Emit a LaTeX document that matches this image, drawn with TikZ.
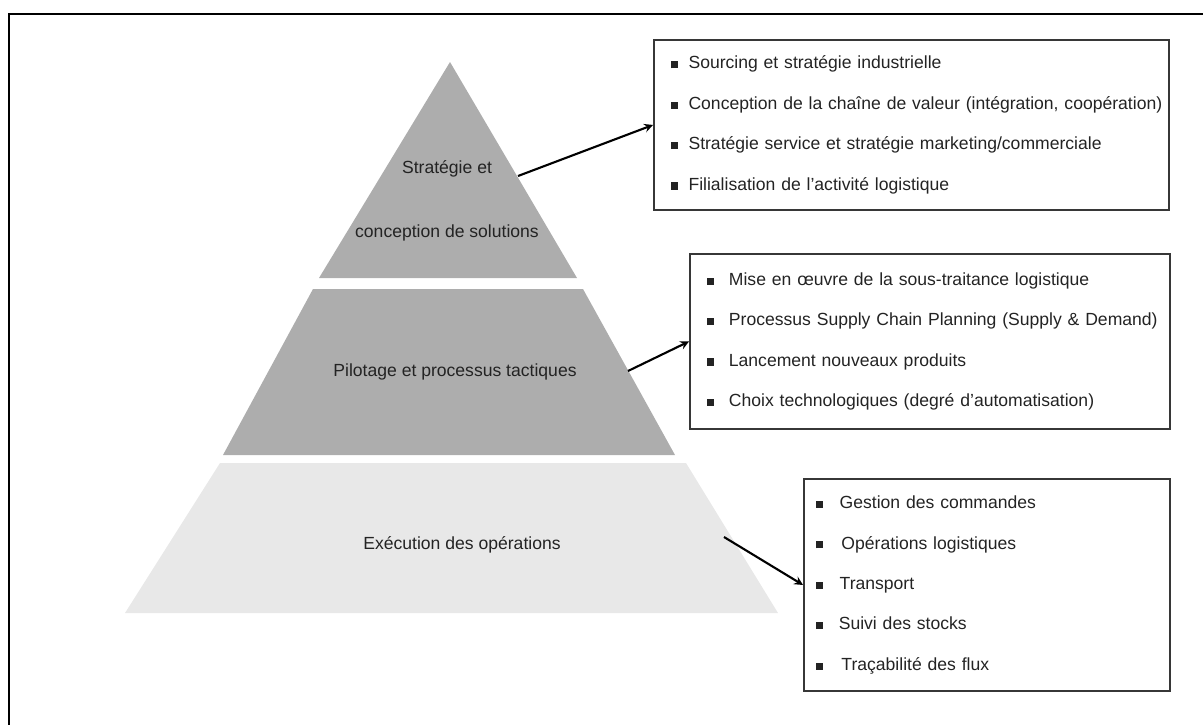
\documentclass[tikz,border=0pt]{standalone}
\usepackage{fontspec}
\setmainfont{Liberation Sans}
\usetikzlibrary{arrows,positioning}
\definecolor{lvldark}{RGB}{173,173,173}
\definecolor{lvllight}{RGB}{232,232,232}
\definecolor{txtgray}{RGB}{35,35,35}
\definecolor{boxline}{RGB}{55,55,55}
\newcommand{\puce}[2][6pt]{\mbox{\rule[0.4pt]{4pt}{4pt}\hspace{#1}#2}}

\begin{document}
\begin{tikzpicture}[x=0.02cm,y=-0.02cm,
    listbox/.style={rectangle,draw=boxline,line width=1.1pt,anchor=north west,align=left,inner xsep=0.34cm,text=txtgray,font=\fontsize{10}{23}\selectfont},
    lvltext/.style={align=center,text=txtgray,font=\fontsize{10}{12}\selectfont},
    arrow/.style={->,>=stealth,very thick}]
    \useasboundingbox (0,0) rectangle (1203,724);
    \draw[line width=1.2pt] (1215,14) -- (9,14) -- (9,735);
    \fill[lvldark] (450,62) -- (577,278) -- (319,278) -- cycle;
    \fill[lvldark] (313,289) -- (583,289) -- (675,455) -- (223,455) -- cycle;
    \fill[lvllight] (220,463) -- (686,463) -- (778,613) -- (125,613) -- cycle;
    \node[lvltext] (l1) at (447,201) {Stratégie et\\[24.4pt]conception de solutions};
    \node[lvltext] (l2) at (455,372) {Pilotage et processus tactiques};
    \node[lvltext] (l3) at (462,545) {Exécution des opérations};
    \coordinate (s1) at (518,176);
    \coordinate (s2) at (628,371);
    \coordinate (s3) at (724,537);
    \node[listbox,minimum width=10.3cm,minimum height=3.4cm,text width=9.62cm] (b1) at (653,39)
      {\puce{Sourcing et stratégie industrielle}\\
       \puce{Conception de la chaîne de valeur (intégration, coopération)}\\
       \puce{Stratégie service et stratégie marketing/commerciale}\\
       \puce{Filialisation de l'activité logistique}};
    \node[listbox,minimum width=9.6cm,minimum height=3.5cm,text width=8.92cm] (b2) at (689,253)
      {\puce[8.5pt]{Mise en œuvre de la sous-traitance logistique}\\
       \puce[8.5pt]{Processus Supply Chain Planning (Supply \& Demand)}\\
       \puce[8.5pt]{Lancement nouveaux produits}\\
       \puce[8.5pt]{Choix technologiques (degré d'automatisation)}};
    \node[listbox,minimum width=7.32cm,minimum height=4.24cm,text width=6.84cm,inner xsep=0.24cm] (b3) at (803,478)
      {\puce[9.5pt]{Gestion des commandes}\\
       \puce[10.5pt]{Opérations logistiques}\\
       \puce[9.5pt]{Transport}\\
       \puce[9pt]{Suivi des stocks}\\
       \puce[10.5pt]{Traçabilité des flux}};
    \draw[arrow] (s1) -- (b1.west);
    \draw[arrow] (s2) -- (b2.west);
    \draw[arrow] (s3) -- (b3.west);
\end{tikzpicture}
\end{document}
